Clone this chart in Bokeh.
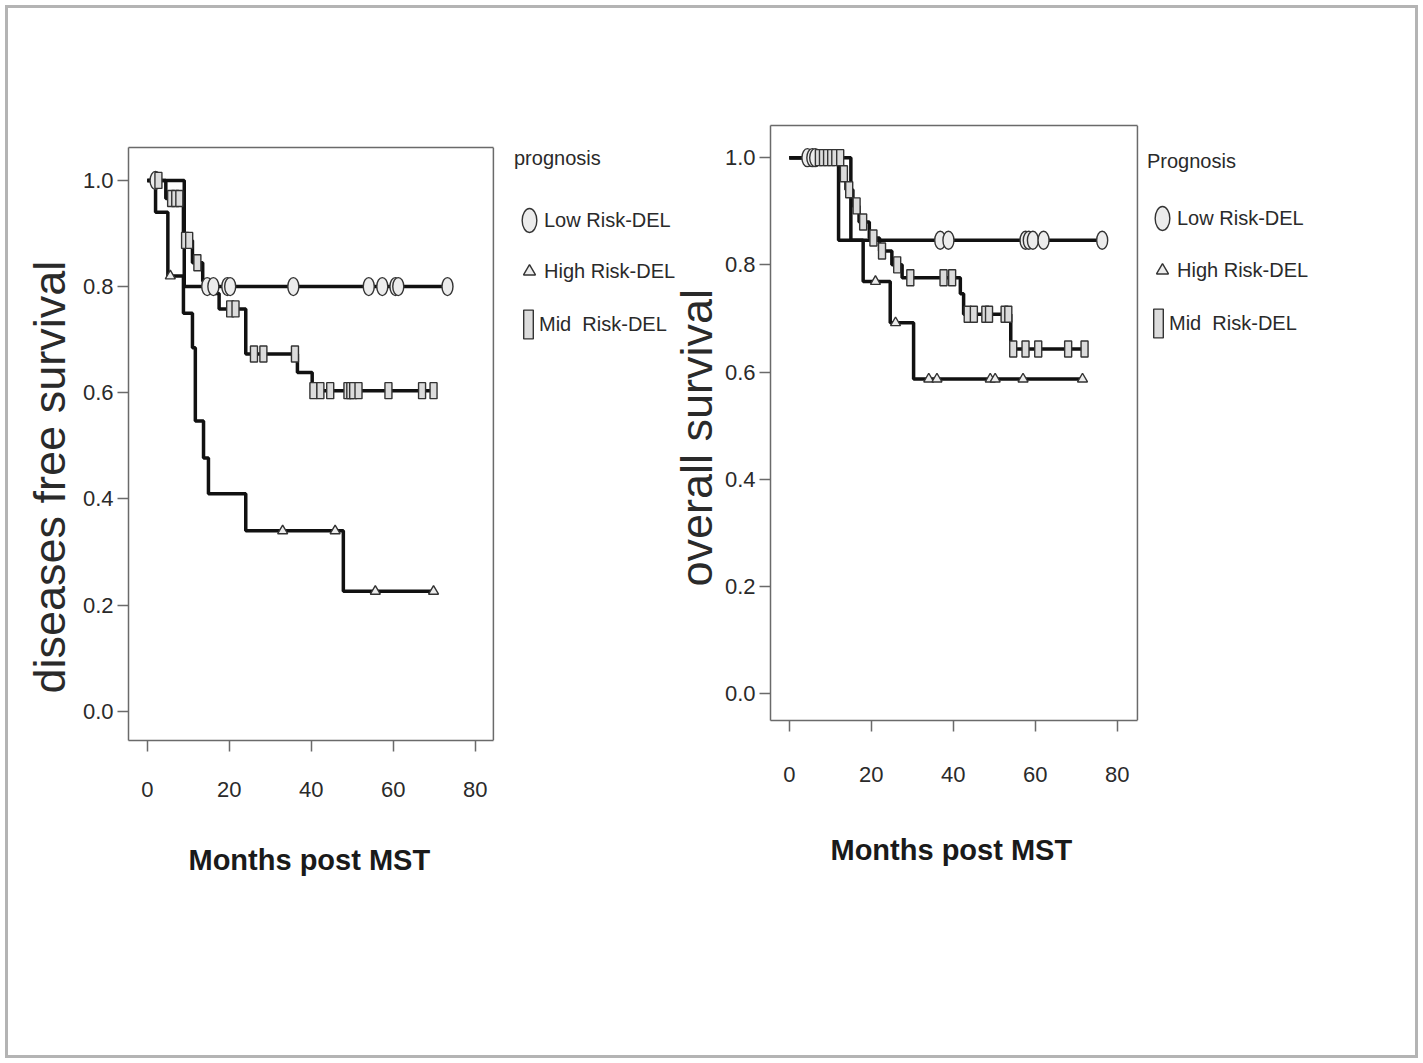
from bokeh.plotting import figure
from bokeh.models import (Range1d, FixedTicker, PrintfTickFormatter, Legend, LegendItem,
                          LinearAxis, Span, Title)
from bokeh.layouts import row
from bokeh.embed import file_html
from bokeh.resources import INLINE

# ---------------- data: disease free survival (left panel) ----------------
dfs_low_times = [9.0]
dfs_low_surv = [0.80]
dfs_low_censor = [2.0, 14.6, 16.1, 19.5, 20.2, 35.6, 54.0, 57.3, 60.5, 61.2, 73.2]

dfs_high_times = [2.0, 5.0, 8.8, 11.0, 11.7, 13.7, 14.9, 24.0, 47.8]
dfs_high_surv = [0.94, 0.82, 0.75, 0.685, 0.547, 0.477, 0.41, 0.34, 0.226]
dfs_high_censor = [5.6, 33.0, 45.8, 55.6, 69.8]

dfs_mid_times = [4.5, 8.8, 11.0, 13.5, 16.5, 17.5, 24.0, 36.6, 40.2]
dfs_mid_surv = [0.966, 0.887, 0.845, 0.81, 0.787, 0.758, 0.673, 0.638, 0.604]
dfs_mid_censor = [2.7, 5.8, 6.8, 7.8, 9.2, 10.2, 12.2, 20.2, 21.5, 26.0, 28.3, 36.0,
                  40.5, 42.2, 44.6, 48.8, 49.5, 50.2, 51.5, 58.8, 67.0, 69.8]

# ---------------- data: overall survival (right panel) ----------------
os_low_times = [15.0]
os_low_surv = [0.846]
os_low_censor = [4.4, 5.6, 6.3, 36.8, 38.8, 57.6, 58.4, 59.4, 62.0, 76.3]

os_high_times = [12.0, 18.0, 24.6, 30.3]
os_high_surv = [0.846, 0.769, 0.692, 0.587]
os_high_censor = [21.0, 25.9, 34.0, 36.0, 49.0, 50.2, 57.0, 71.5]

os_mid_times = [12.8, 13.8, 15.5, 17.0, 19.5, 22.0, 25.0, 27.5, 41.7, 42.5, 54.0]
os_mid_surv = [0.97, 0.94, 0.91, 0.88, 0.85, 0.826, 0.80, 0.776, 0.746, 0.708, 0.643]
os_mid_censor = [7.2, 8.2, 9.2, 10.2, 11.2, 12.4, 13.3, 14.6, 16.4, 18.0, 20.5, 22.6,
                 26.3, 29.5, 37.6, 39.7, 43.5, 45.0, 47.8, 48.7, 52.5, 53.4, 54.6,
                 57.6, 60.7, 68.0, 72.0]

x_ticks = [0, 20, 40, 60, 80]
y_ticks = [0.0, 0.2, 0.4, 0.6, 0.8, 1.0]
series_labels = ["Low Risk-DEL", "High Risk-DEL", "Mid  Risk-DEL"]
x_title = "Months post MST"
left_y_title = "diseases free survival"
right_y_title = "overall survival"
left_legend_title = "prognosis"
right_legend_title = "Prognosis"

FONT = "Liberation Sans"
TXT = "#2a2a2a"
FRAME = "#6a6a6a"


def km_steps(times, surv, censor):
    end = max(list(times) + list(censor))
    xs = [0.0] + list(times) + [end]
    ys = [1.0] + list(surv) + [surv[-1]]
    return xs, ys


def value_at(times, surv, pts):
    out = []
    for t in pts:
        v = 1.0
        for ti, si in zip(times, surv):
            if ti <= t:
                v = si
        out.append(v)
    return out


def legend_common():
    return dict(padding=0, margin=0, border_line_color=None, background_fill_alpha=0,
                label_text_font=FONT, label_text_font_size="20px", label_text_color=TXT,
                title_text_font=FONT, title_text_font_size="20px",
                title_text_font_style="normal", title_text_color=TXT)


def make_panel(series, box_x, xr_end, yr, fw, fh, borders, ytitle, ltitle, legA, legB,
               xstand, xt_stand, xt_off, yt_stand, yt_off, transparent=False):
    bl, br, bt, bb = borders
    p = figure(frame_width=fw, frame_height=fh, min_border_left=bl, min_border_right=br,
               min_border_top=bt, min_border_bottom=bb,
               x_range=Range1d(box_x[0], xr_end), y_range=Range1d(*yr),
               output_backend="svg", toolbar_location=None,
               background_fill_color="white",
               border_fill_color=None if transparent else "white")
    p.grid.visible = False
    p.outline_line_color = None

    p.xaxis.ticker = FixedTicker(ticks=x_ticks)
    p.xaxis.bounds = box_x
    p.yaxis.ticker = FixedTicker(ticks=y_ticks)
    p.yaxis.formatter = PrintfTickFormatter(format="%.1f")
    for ax in (p.xaxis, p.yaxis):
        ax.axis_line_color = FRAME
        ax.axis_line_width = 1.5
        ax.major_tick_line_color = FRAME
        ax.major_tick_line_width = 1.5
        ax.major_tick_out = 11
        ax.major_tick_in = 0
        ax.minor_tick_line_color = None
        ax.major_label_text_font = FONT
        ax.major_label_text_font_size = "22px"
        ax.major_label_text_color = TXT
    p.xaxis.major_label_standoff = xstand
    p.yaxis.major_label_standoff = 4

    # top and right edges of the plot box
    top = LinearAxis(ticker=FixedTicker(ticks=[]), bounds=box_x, axis_line_color=FRAME,
                     axis_line_width=1.5, major_label_text_font_size="0px",
                     minor_tick_line_color=None, major_tick_line_color=None)
    p.add_layout(top, "above")
    p.add_layout(Span(location=box_x[1], dimension="height", line_color=FRAME,
                      line_width=1.5))

    # axis titles
    p.add_layout(Title(text=x_title, align="left", offset=xt_off, standoff=xt_stand,
                       text_font=FONT, text_font_style="bold", text_font_size="29px",
                       text_color="#1a1a1a"), "below")
    p.add_layout(Title(text=ytitle, align="left", offset=yt_off, standoff=yt_stand,
                       text_font=FONT, text_font_style="normal", text_font_size="45px",
                       text_color=TXT), "left")

    for times, surv, cens in series:
        xs, ys = km_steps(times, surv, cens)
        p.step(xs, ys, mode="after", line_color="#111111", line_width=3.5)
    renderers = []
    for kind, (times, surv, cens) in zip(["low", "high", "mid"], series):
        cy = value_at(times, surv, cens)
        if kind == "low":
            r = p.ellipse(cens, cy, width=11, height=18, width_units="screen",
                          height_units="screen", fill_color="#ececec",
                          line_color="#333333", line_width=1.4)
        elif kind == "high":
            r = p.scatter(cens, cy, marker="triangle", size=10, fill_color="#ececec",
                          line_color="#333333", line_width=1.4)
        else:
            r = p.rect(cens, cy, width=7, height=16, width_units="screen",
                       height_units="screen", fill_color="#dcdcdc",
                       line_color="#333333", line_width=1.4)
        renderers.append(r)

    (ax_, ay_, tstand, spacing) = legA
    la = Legend(items=[LegendItem(label=series_labels[0], renderers=[renderers[0]]),
                       LegendItem(label=series_labels[1], renderers=[renderers[1]])],
                title=ltitle, location=(ax_, ay_), glyph_width=30, glyph_height=42,
                label_height=42, label_standoff=-4, spacing=spacing,
                title_standoff=tstand, **legend_common())
    p.add_layout(la)
    (bx_, by_) = legB
    lb = Legend(items=[LegendItem(label=series_labels[2], renderers=[renderers[2]])],
                location=(bx_, by_), glyph_width=12, glyph_height=36, label_height=36,
                label_standoff=5, spacing=0, **legend_common())
    p.add_layout(lb)
    return p


left_series = [(dfs_low_times, dfs_low_surv, dfs_low_censor),
               (dfs_high_times, dfs_high_surv, dfs_high_censor),
               (dfs_mid_times, dfs_mid_surv, dfs_mid_censor)]
right_series = [(os_low_times, os_low_surv, os_low_censor),
                (os_high_times, os_high_surv, os_high_censor),
                (os_mid_times, os_mid_surv, os_mid_censor)]

# left: frame 128..676 px (plot box 128..493), 147..740 px
p1 = make_panel(left_series, (-4.6, 84.4), -4.6 + 548 / 4.1, (-0.055, 1.062), 548, 593,
                (120, 0, 139, 315), left_y_title, left_legend_title,
                (386, 448, 29, 9), (394, 398),
                xstand=30, xt_stand=85, xt_off=60, yt_stand=10, yt_off=47)
# right: frame 770..1320 px (plot box 770..1137), moved 8 px left and 22 px up after layout
p2 = make_panel(right_series, (-4.6, 84.9), -4.6 + 550 / 4.1, (-0.05, 1.06), 550, 595,
                (102, 87, 139, 313), right_y_title, right_legend_title,
                (377, 429, 24, 10), (382, 379),
                xstand=35, xt_stand=94, xt_off=60, yt_stand=0, yt_off=134,
                transparent=True)
p2.styles = {"transform": "translate(-8px, -22px)"}

layout = row(p1, p2, styles={"margin": "8px", "outline": "3px solid #b4b4b4"})
open("out.html", "w").write(file_html(layout, INLINE))
